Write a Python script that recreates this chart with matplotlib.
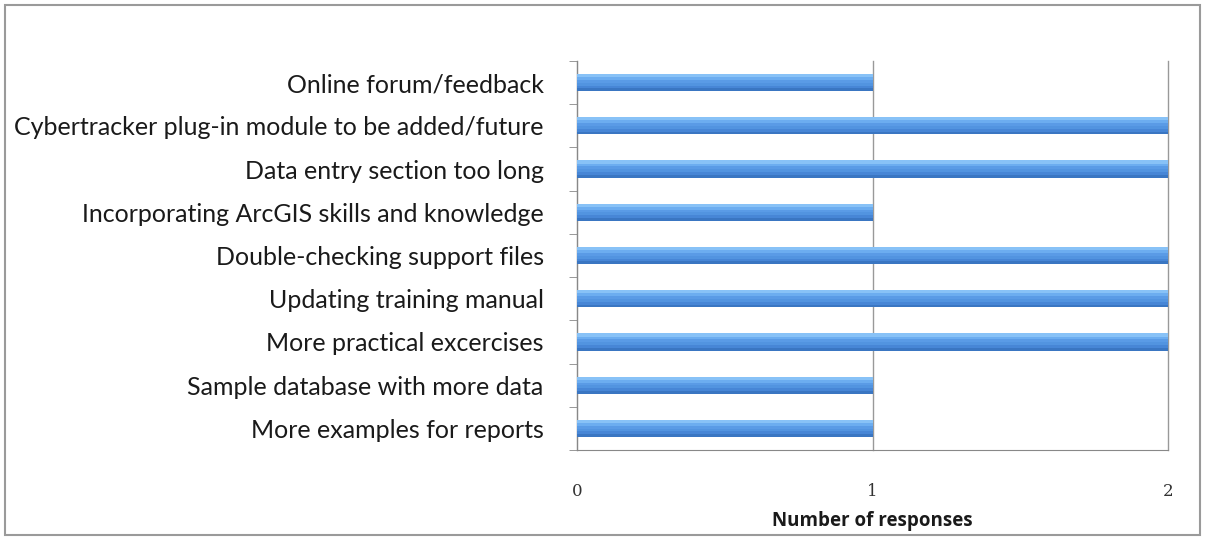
import matplotlib

matplotlib.use("Agg")
import matplotlib.pyplot as plt
import numpy as np
from matplotlib.patches import Rectangle

# categories listed bottom -> top
categories = [
    "More examples for reports",
    "Sample database with more data",
    "More practical excercises",
    "Updating training manual",
    "Double-checking support files",
    "Incorporating ArcGIS skills and knowledge",
    "Data entry section too long",
    "Cybertracker plug-in module to be added/future",
    "Online forum/feedback",
]
responses = [1, 1, 2, 2, 2, 1, 2, 2, 1]
x_ticks = [0, 1, 2]

fig = plt.figure(figsize=(12.06, 5.39), dpi=100)
fig.patch.set_facecolor("#FFFFFF")
ax = fig.add_axes([577 / 1206, 1 - 450 / 539, 591 / 1206, 389 / 539])

y = np.arange(len(categories))
h = 0.39
# gradient look: stack thin horizontal strips, darker at bottom, light on top
strips = ["#3A76C2", "#4786D6", "#5294E0", "#5A9BE6", "#6CADF0", "#88C2F7"]
n = len(strips)
for i, c in enumerate(strips):
    off = -h / 2 + (i + 0.5) * h / n
    ax.barh(y + off, responses, height=h / n * 1.15, color=c, linewidth=0,
            antialiased=False, zorder=3)

ax.set_xlim(0, 2)
ax.set_ylim(-0.5, len(categories) - 0.5)
ax.set_xticks(x_ticks)
ax.set_xticklabels([str(t) for t in x_ticks], family="DejaVu Serif", fontsize=12, color="#333333")
ax.tick_params(axis="x", length=0, pad=24)
ax.set_yticks(y)
ax.set_yticklabels(categories, family="Lato", fontsize=18, color="#1a1a1a")
ax.set_yticks(np.arange(len(categories) + 1) - 0.5, minor=True)
ax.tick_params(axis="y", which="major", length=0, pad=24)
ax.tick_params(axis="y", which="minor", length=6, color="#888888", direction="out")

ax.xaxis.grid(True, color="#999999", linewidth=1.0, zorder=0)
for line in ax.get_xgridlines():
    line.set_clip_on(False)
for side in ["top", "right"]:
    ax.spines[side].set_visible(False)
ax.spines["left"].set_color("#888888")
ax.spines["bottom"].set_color("#888888")

ax.set_xlabel("Number of responses", family="Open Sans", fontsize=13.5, fontweight="bold",
              color="#1a1a1a", labelpad=8)

# outer frame
fig.patches.append(Rectangle((5 / 1206, 4 / 539), 1195 / 1206, 530 / 539,
                             transform=fig.transFigure, fill=False,
                             edgecolor="#9a9a9a", linewidth=1.5))

fig.savefig("out.png", dpi=100)
